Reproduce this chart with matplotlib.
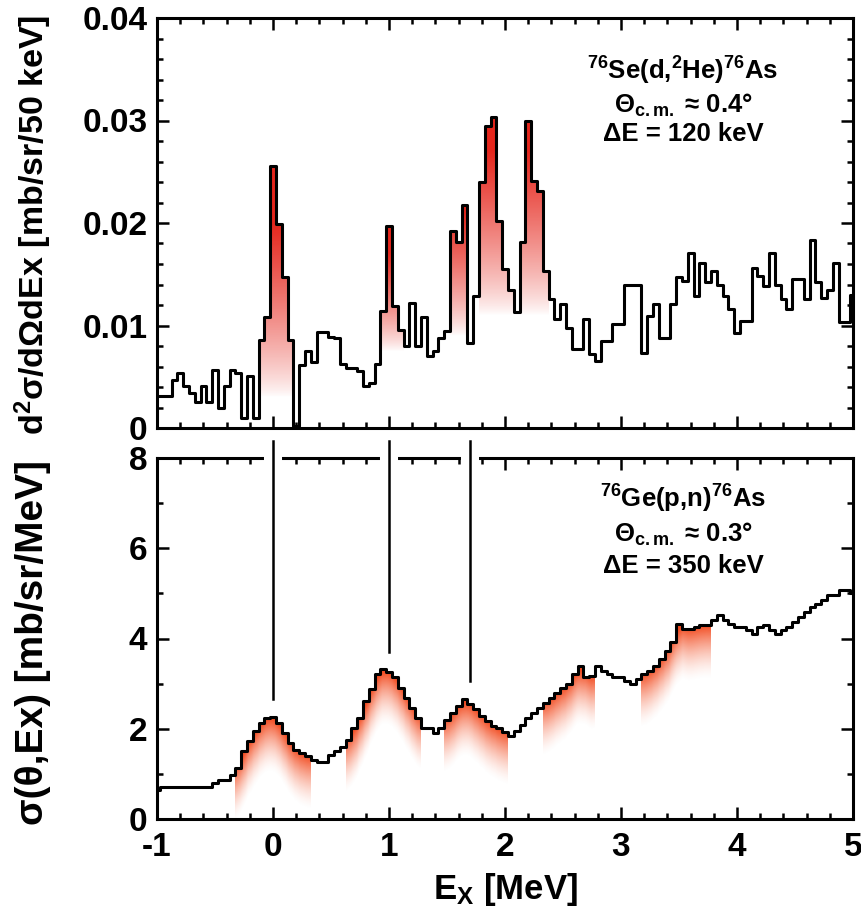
import numpy as np
import matplotlib.pyplot as plt
from matplotlib.patches import Polygon
from matplotlib.ticker import MultipleLocator, FuncFormatter

plt.rcParams['font.family'] = ['Liberation Sans', 'DejaVu Sans']
plt.rcParams['font.weight'] = 'bold'
plt.rcParams['mathtext.fontset'] = 'custom'
plt.rcParams['mathtext.rm'] = 'Liberation Sans:bold'
plt.rcParams['mathtext.bf'] = 'Liberation Sans:bold'
plt.rcParams['mathtext.it'] = 'Liberation Sans:bold:italic'

# bin centres in MeV (50 keV bins)
ex = np.round(np.arange(121) * 0.05 - 1.0, 3)

# 76Se(d,2He)76As, units of 1e-3 mb/sr/50 keV
se_dhe = [3.1, 3.1, 3.1, 4.7, 5.4, 4.1, 3.4, 2.5, 4.1, 2.5,
          5.7, 2.0, 4.1, 5.7, 5.4, 1.0, 5.1, 1.0, 8.6, 10.8,
          25.6, 19.9, 14.7, 8.6, 0.2, 6.1, 7.5, 6.4, 9.4, 9.4,
          8.9, 8.8, 6.2, 5.9, 5.9, 5.6, 4.1, 4.4, 6.2, 11.4,
          19.7, 11.9, 9.6, 8.0, 12.2, 8.0, 10.8, 7.0, 7.5, 8.8,
          9.5, 19.2, 18.1, 21.8, 8.3, 12.9, 24.0, 29.5, 30.3, 20.2,
          15.5, 13.5, 11.3, 18.1, 30.0, 24.1, 23.1, 15.3, 12.6, 10.6,
          12.1, 9.8, 7.7, 7.7, 10.6, 7.2, 6.5, 8.5, 8.5, 10.1,
          10.1, 14.0, 14.0, 14.0, 7.3, 10.9, 12.1, 8.8, 8.8, 12.1,
          14.7, 14.3, 17.1, 12.9, 16.1, 14.2, 15.3, 14.0, 12.9, 11.6,
          9.3, 10.4, 10.4, 15.6, 14.8, 13.9, 17.1, 14.0, 12.6, 11.6,
          14.5, 14.5, 12.6, 18.3, 14.2, 12.7, 13.5, 16.1, 10.3, 10.3,
          13.0]

# 76Ge(p,n)76As, mb/sr/MeV
ge_pn = [0.65, 0.72, 0.72, 0.72, 0.72, 0.72, 0.72, 0.72, 0.72, 0.72,
         0.79, 0.86, 0.86, 0.98, 1.12, 1.50, 1.72, 1.94, 2.13, 2.24,
         2.26, 2.13, 1.90, 1.68, 1.53, 1.46, 1.39, 1.31, 1.27, 1.27,
         1.42, 1.50, 1.60, 1.76, 2.02, 2.24, 2.61, 2.88, 3.21, 3.32,
         3.25, 3.14, 2.91, 2.69, 2.47, 2.24, 2.02, 2.02, 1.90, 2.02,
         2.20, 2.35, 2.50, 2.65, 2.54, 2.43, 2.28, 2.17, 2.06, 2.02,
         1.92, 1.83, 1.94, 2.09, 2.24, 2.35, 2.47, 2.58, 2.69, 2.80,
         2.91, 3.00, 3.21, 3.40, 3.14, 3.17, 3.40, 3.28, 3.21, 3.14,
         3.14, 3.06, 2.99, 3.10, 3.21, 3.28, 3.40, 3.55, 3.73, 3.92,
         4.33, 4.22, 4.22, 4.25, 4.29, 4.29, 4.40, 4.51, 4.40, 4.33,
         4.25, 4.25, 4.18, 4.10, 4.25, 4.29, 4.18, 4.10, 4.18, 4.25,
         4.36, 4.48, 4.59, 4.70, 4.77, 4.85, 4.96, 4.96, 5.07, 5.07,
         5.00]

# shaded peaks: first bin, last bin, white level, full-colour level
se_peaks = [(18, 23, 3.0, 20.0), (39, 42, 7.5, 17.0), (51, 53, 9.0, 21.0),
            (56, 61, 11.0, 27.0), (63, 67, 11.0, 27.0)]
# shaded (p,n) bumps: first bin, last bin
ge_peaks = [(14, 26), (33, 45), (50, 60), (67, 75), (84, 95)]

# correspondence lines: position and lower end
line_ex = [0.0, 1.0, 1.7]
line_end = [2.65, 3.70, 3.05]

hw = 0.025
RED = (0.90, 0.15, 0.11)
ORANGE = (0.95, 0.30, 0.13)


def step_poly(ax, vals, i0, i1):
    verts = [(ex[i0] - hw, 0)]
    for i in range(i0, i1 + 1):
        verts += [(ex[i] - hw, vals[i]), (ex[i] + hw, vals[i])]
    verts.append((ex[i1] + hw, 0))
    return Polygon(verts, closed=True, transform=ax.transData)


def shade_abs(ax, vals, i0, i1, lo, hi, color):
    x0, x1 = ex[i0] - hw, ex[i1] + hw
    top = max(vals[i0:i1 + 1])
    ys = np.linspace(0, top, 300)
    a = np.clip((ys - lo) / (hi - lo), 0, 1) ** 0.8
    img = np.zeros((len(ys), 1, 4))
    img[..., :3] = color
    img[:, 0, 3] = a
    im = ax.imshow(img, origin='lower', extent=[x0, x1, 0, top],
                   aspect='auto', interpolation='bilinear', zorder=1)
    im.set_clip_path(step_poly(ax, vals, i0, i1))


def shade_rel(ax, vals, i0, i1, depth, color):
    # gradient hanging below a smoothed envelope of the steps
    x0, x1 = ex[i0] - hw, ex[i1] + hw
    xs = np.linspace(x0, x1, 240)
    idx = np.clip(np.round((xs - ex[0]) / 0.05).astype(int), i0, i1)
    top = np.asarray(vals)[idx]
    n = max(3, int(0.12 / (xs[1] - xs[0])))
    pad = np.pad(top, n, mode='edge')
    env = np.convolve(pad, np.ones(n) / n, mode='same')[n:-n]
    ys = np.linspace(0, top.max(), 320)
    a = np.clip(1 - (env[None, :] - ys[:, None]) / depth, 0, 1) ** 1.6
    img = np.zeros((len(ys), len(xs), 4))
    img[..., :3] = color
    img[..., 3] = a
    im = ax.imshow(img, origin='lower', extent=[x0, x1, 0, top.max()],
                   aspect='auto', interpolation='bilinear', zorder=1)
    im.set_clip_path(step_poly(ax, vals, i0, i1))


def style(ax):
    for s in ax.spines.values():
        s.set_linewidth(2.2)
    ax.tick_params(which='both', direction='in', top=True, right=True,
                   width=1.8, labelsize=24, pad=7)
    ax.tick_params(which='major', length=8.5)
    ax.tick_params(which='minor', length=4.5)
    ax.xaxis.set_major_locator(MultipleLocator(1))
    ax.xaxis.set_minor_locator(MultipleLocator(0.2))
    ax.set_xlim(-1, 5)


W, H = 861, 916
fig = plt.figure(figsize=(W / 100, H / 100), dpi=100)
ax1 = fig.add_axes([157 / W, 1 - 428 / H, 696 / W, 410 / H])
ax2 = fig.add_axes([157 / W, 1 - 819 / H, 696 / W, 361 / H])

# top panel
se = [v * 1e-3 for v in se_dhe]
for i0, i1, lo, hi in se_peaks:
    shade_abs(ax1, se, i0, i1, lo * 1e-3, hi * 1e-3, RED)
ax1.step(ex, se, where='mid', color='black', lw=2.2, zorder=3)
style(ax1)
ax1.set_ylim(0, 0.04)
ax1.yaxis.set_major_locator(MultipleLocator(0.01))
ax1.yaxis.set_minor_locator(MultipleLocator(0.002))
ax1.yaxis.set_major_formatter(FuncFormatter(lambda v, p: '0' if abs(v) < 1e-9 else f'{v:.2f}'))
ax1.tick_params(labelbottom=False)

# bottom panel
for i0, i1 in ge_peaks:
    shade_rel(ax2, ge_pn, i0, i1, 1.2, ORANGE)
ax2.step(ex, ge_pn, where='mid', color='black', lw=2.2, zorder=3)
style(ax2)
ax2.set_ylim(0, 8)
ax2.yaxis.set_major_locator(MultipleLocator(2))
ax2.yaxis.set_minor_locator(MultipleLocator(1))
ax2.xaxis.set_major_formatter(FuncFormatter(lambda v, p: f'{v:.0f}'))
ax2.tick_params(axis='x', pad=9)

for x, y_end in zip(line_ex, line_end):
    ax2.plot([x, x], [8.12, 7.66], color='white', lw=13, solid_capstyle='butt',
             clip_on=False, zorder=4)
    ax2.plot([x, x], [8.37, y_end], color='black', lw=1.8, clip_on=False, zorder=5)

ax2.set_xlabel(r'E$_\mathrm{X}$ [MeV]', fontsize=25, fontweight='bold', labelpad=6)

fig.text(33 / W, 1 - 225 / H, r'd$^{2}$σ/dΩdEx [mb/sr/50 keV]', rotation=90,
         ha='center', va='center', fontsize=24.5, fontweight='bold')
fig.text(33 / W, 1 - 643 / H, 'σ(θ,Ex) [mb/sr/MeV]', rotation=90,
         ha='center', va='center', fontsize=28, fontweight='bold')

tx = 683 / W
fs = 18.5
fig.text(tx, 1 - 80 / H, r'$^{76}$Se(d,$^{2}$He)$^{76}$As', ha='center', va='baseline', fontsize=fs)
fig.text(tx, 1 - 113 / H, r'Θ$_{\mathrm{c.m.}}$ ≈ 0.4°', ha='center', va='baseline', fontsize=fs)
fig.text(tx, 1 - 141 / H, 'ΔE = 120 keV', ha='center', va='baseline', fontsize=fs)
fig.text(tx, 1 - 508 / H, r'$^{76}$Ge(p,n)$^{76}$As', ha='center', va='baseline', fontsize=fs)
fig.text(tx, 1 - 542 / H, r'Θ$_{\mathrm{c.m.}}$ ≈ 0.3°', ha='center', va='baseline', fontsize=fs)
fig.text(tx, 1 - 573 / H, 'ΔE = 350 keV', ha='center', va='baseline', fontsize=fs)

fig.savefig('out.png', dpi=100)
